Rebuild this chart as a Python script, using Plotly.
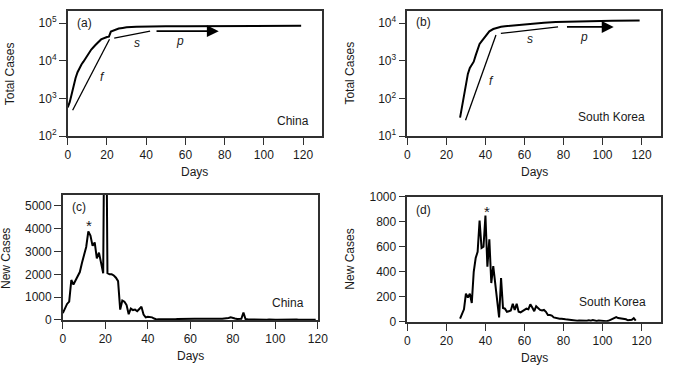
import math
import plotly.graph_objects as go

W, H = 676, 367

# ---------------- data ----------------
days_cn_total = [0, 1, 2, 3, 4, 5, 6, 7, 8, 10, 12, 14, 17, 20, 21, 22, 24, 26, 28, 30, 35, 40, 50, 60, 80, 100, 119]
cn_total = [580, 800, 1300, 2200, 3500, 5000, 6500, 8000, 9500, 14000, 20000, 26000, 37000, 43000, 44000,
            60000, 67000, 72000, 75000, 78000, 81000, 82500, 83000, 83500, 84000, 84500, 85000]

days_kr_total = [27, 29, 31, 32, 33, 34, 35, 36, 37, 38, 39, 40, 42, 44, 46, 48, 50, 55, 62, 70, 76, 85, 95, 105, 119]
kr_total = [31, 120, 450, 650, 780, 950, 1400, 2000, 2800, 3300, 3900, 4700, 6100, 7000, 7600, 8000, 8300,
            8800, 9400, 10200, 10700, 11100, 11400, 11550, 11700]

cn_new = [300, 500, 700, 800, 1750, 1550, 1750, 1900, 2100, 2500,
          2800, 3200, 3880, 3700, 3250, 3400, 2700, 2950, 2500, 2050,
          15000, 2050, 2000, 2000, 1950, 1850, 1700, 450, 850, 800,
          650, 250, 500, 430, 450, 380, 480, 580, 230, 110,
          140, 130, 110, 60, 20, 25, 20, 25, 30, 20,
          25, 30, 20, 25, 40, 45, 50, 45, 60, 55,
          70, 65, 55, 50, 45, 40, 35, 40, 35, 40,
          45, 50, 45, 55, 60, 50, 65, 60, 80, 110,
          100, 60, 40, 45, 50, 320, 30, 25, 20, 15,
          20, 25, 20, 15, 10, 15, 10, 12, 20, 15,
          10, 8, 12, 10, 8, 15, 18, 20, 30, 25,
          15, 10, 12, 8, 10, 6, 8, 5, 6, 5]
days_cn_new = list(range(len(cn_new)))

kr_new = [25, 60, 100, 225, 195, 225, 150, 400, 510, 560,
          810, 590, 600, 850, 440, 660, 310, 445, 300, 200,
          35, 350, 110, 105, 80, 85, 90, 145, 95, 145,
          80, 75, 85, 100, 105, 100, 140, 115, 85, 125,
          110, 95, 90, 95, 80, 55, 55, 50, 35, 30,
          30, 25, 25, 20, 20, 18, 15, 12, 10, 9,
          8, 10, 8, 7, 10, 8, 12, 9, 14, 8,
          6, 10, 8, 12, 6, 4, 8, 15, 25, 35,
          38, 30, 28, 30, 25, 20, 12, 15, 17, 30, 10]
days_kr_new = list(range(27, 27 + len(kr_new)))

# guide lines f, s and arrow p
cn_f_days, cn_f_vals = [2.5, 21.3], [490, 37500]
cn_s_days, cn_s_vals = [23.7, 42.0], [40000, 61500]
cn_p_days, cn_p_val = [44.5, 77.0], 61500
kr_f_days, kr_f_vals = [29.8, 45.4], [26.6, 4840]
kr_s_days, kr_s_vals = [47.9, 77.2], [5370, 7940]
kr_p_days, kr_p_val = [81.0, 105.7], 7940

x_ticks = [0, 20, 40, 60, 80, 100, 120]
x_tick_labels = ["0", "20", "40", "60", "80", "100", "120"]
cn_log_ticks = [1e2, 1e3, 1e4, 1e5]
cn_log_labels = ["10<sup>2</sup>", "10<sup>3</sup>", "10<sup>4</sup>", "10<sup>5</sup>"]
kr_log_ticks = [1e1, 1e2, 1e3, 1e4]
kr_log_labels = ["10<sup>1</sup>", "10<sup>2</sup>", "10<sup>3</sup>", "10<sup>4</sup>"]
cn_new_ticks = [0, 1000, 2000, 3000, 4000, 5000]
kr_new_ticks = [0, 200, 400, 600, 800, 1000]

# ---------------- styling ----------------
FONT = "Liberation Sans, Arial, Helvetica, sans-serif"
TXT = "#1a1a1a"
FRAME = "#303030"


def px_dom_x(a, b):
    return [a / W, b / W]


def px_dom_y(top, bottom):
    return [1 - bottom / H, 1 - top / H]


fig = go.Figure()

line_main = dict(color="black", width=2)
line_guide = dict(color="black", width=1.3)

fig.add_trace(go.Scatter(x=days_cn_total, y=cn_total, mode="lines", line=line_main, xaxis="x", yaxis="y"))
fig.add_trace(go.Scatter(x=cn_f_days, y=cn_f_vals, mode="lines", line=line_guide, xaxis="x", yaxis="y"))
fig.add_trace(go.Scatter(x=cn_s_days, y=cn_s_vals, mode="lines", line=line_guide, xaxis="x", yaxis="y"))

fig.add_trace(go.Scatter(x=days_kr_total, y=kr_total, mode="lines", line=line_main, xaxis="x2", yaxis="y2"))
fig.add_trace(go.Scatter(x=kr_f_days, y=kr_f_vals, mode="lines", line=line_guide, xaxis="x2", yaxis="y2"))
fig.add_trace(go.Scatter(x=kr_s_days, y=kr_s_vals, mode="lines", line=line_guide, xaxis="x2", yaxis="y2"))

fig.add_trace(go.Scatter(x=days_cn_new, y=cn_new, mode="lines", line=line_main, xaxis="x3", yaxis="y3"))
fig.add_trace(go.Scatter(x=days_kr_new, y=kr_new, mode="lines", line=line_main, xaxis="x4", yaxis="y4"))

axis_common = dict(showline=True, mirror=True, linecolor=FRAME, linewidth=1.5, ticks="outside",
                   ticklen=7, tickwidth=1.3, tickcolor=FRAME, showgrid=False, zeroline=False,
                   tickfont=dict(family=FONT, size=12, color=TXT))

fig.update_layout(
    width=W, height=H, margin=dict(l=0, r=0, t=0, b=0),
    paper_bgcolor="white", plot_bgcolor="white", showlegend=False,
    xaxis=dict(domain=px_dom_x(66, 325), range=[0, 129.5], tickvals=x_ticks, ticktext=x_tick_labels,
               anchor="y", **axis_common),
    yaxis=dict(domain=px_dom_y(4.3, 134.3), type="log", range=[2, 5.32], tickvals=cn_log_ticks,
               ticktext=cn_log_labels, anchor="x", **axis_common),
    xaxis2=dict(domain=px_dom_x(412.3, 671), range=[0, 130], tickvals=x_ticks, ticktext=x_tick_labels,
                anchor="y2", **axis_common),
    yaxis2=dict(domain=px_dom_y(4.3, 134.3), type="log", range=[1, 4.32], tickvals=kr_log_ticks,
                ticktext=kr_log_labels, anchor="x2", **axis_common),
    xaxis3=dict(domain=px_dom_x(61, 321), range=[0, 120], tickvals=x_ticks, ticktext=x_tick_labels,
                anchor="y3", **axis_common),
    yaxis3=dict(domain=px_dom_y(195, 325.3), range=[0, 5500], tickvals=cn_new_ticks, anchor="x3",
                **axis_common),
    xaxis4=dict(domain=px_dom_x(412.3, 671), range=[0, 130], tickvals=x_ticks, ticktext=x_tick_labels,
                anchor="y4", **axis_common),
    yaxis4=dict(domain=px_dom_y(197.3, 327.3), range=[0, 1000], tickvals=kr_new_ticks, anchor="x4",
                **axis_common),
)

ann = []
tf = dict(family=FONT, size=12, color=TXT)


def ptext(text, x, y, xa="center", ya="middle", angle=0):
    ann.append(dict(text=text, x=x / W, y=1 - y / H, xref="paper", yref="paper", showarrow=False,
                    xanchor=xa, yanchor=ya, textangle=angle, font=tf))


def dtext(text, xr, yr, x, y, xa, ya="middle", size=12):
    ann.append(dict(text=text, x=x, y=y, xref=xr, yref=yr, showarrow=False, xanchor=xa, yanchor=ya,
                    font=dict(family=FONT, size=size, color=TXT)))


# axis titles
ptext("Total Cases", 8, 69, angle=-90)
ptext("Total Cases", 354, 69, angle=-90)
ptext("New Cases", 3, 261, angle=-90)
ptext("New Cases", 353.5, 262, angle=-90)
ptext("Days", 195.5, 172)
ptext("Days", 541.7, 172)
ptext("Days", 191, 363)
ptext("Days", 541.7, 364.5)

# panel labels
dtext("(a)", "x domain", "y domain", 0.027, 0.902, "left")
dtext("China", "x domain", "y domain", 0.958, 0.125, "right")
dtext("(b)", "x2 domain", "y2 domain", 0.027, 0.91, "left")
dtext("South Korea", "x2 domain", "y2 domain", 0.946, 0.156, "right")
dtext("(c)", "x3 domain", "y3 domain", 0.028, 0.90, "left")
dtext("China", "x3 domain", "y3 domain", 0.954, 0.133, "right")
dtext("(d)", "x4 domain", "y4 domain", 0.027, 0.895, "left")
dtext("South Korea", "x4 domain", "y4 domain", 0.95, 0.156, "right")

# f / s / p labels (log axes need log10 positions for annotations)
dtext("<i>f</i>", "x", "y", 17.5, 3.57, "center")
dtext("<i>s</i>", "x", "y", 35.3, 4.47, "center")
dtext("<i>p</i>", "x", "y", 57.0, 4.53, "center")
dtext("<i>f</i>", "x2", "y2", 42.9, 2.47, "center")
dtext("<i>s</i>", "x2", "y2", 63.0, 3.57, "center")
dtext("<i>p</i>", "x2", "y2", 90.6, 3.64, "center")

# asterisks at the peaks
dtext("*", "x3", "y3", 12.3, 4150, "center", size=15)
dtext("*", "x4", "y4", 40.7, 880, "center", size=15)

# arrows p
for xr, yr, dd, vv in [("x", "y", cn_p_days, cn_p_val), ("x2", "y2", kr_p_days, kr_p_val)]:
    ly = math.log10(vv)
    ann.append(dict(x=dd[1], y=ly, ax=dd[0], ay=ly, xref=xr, yref=yr, axref=xr, ayref=yr, text="",
                    showarrow=True, arrowhead=2, arrowsize=1.4, arrowwidth=1.7, arrowcolor="black",
                    standoff=0))

fig.update_layout(annotations=ann)

fig.write_html("out.html")
